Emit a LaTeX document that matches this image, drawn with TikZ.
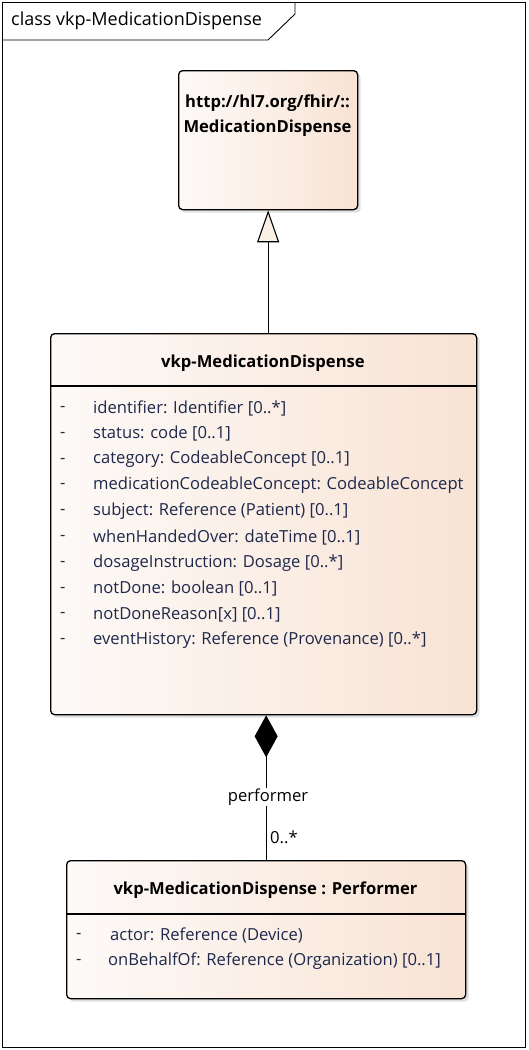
\documentclass[tikz,border=0pt]{standalone}
\usepackage{fontspec}
\setmainfont{Open Sans}
\usepackage{tikz}
\usetikzlibrary{
    arrows.meta,
    shadows,
    positioning
}
\definecolor{boxleft}{RGB}{253,250,248}
\definecolor{boxright}{RGB}{248,227,212}
\definecolor{attrtext}{RGB}{30,40,75}
\definecolor{tipfill}{RGB}{250,240,228}
\tikzstyle{umlclass} = [
    draw=black,
    line width=1.3pt,
    rounded corners=4pt,
    left color=boxleft,
    right color=boxright,
    anchor=north west,
    inner sep=0pt,
    drop shadow={shadow xshift=3pt, shadow yshift=-3pt, fill=black!12, opacity=1}
]
\tikzstyle{classname} = [
    font=\bfseries\fontsize{16.6}{25}\selectfont
]
\tikzstyle{attr} = [
    anchor=west,
    inner sep=0pt,
    text=attrtext,
    font=\fontsize{16.6}{20}\selectfont
]
\tikzstyle{link} = [
    line width=1.1pt,
    draw=black
]

\begin{document}
\begin{tikzpicture}[x=1pt, y=-1pt]
        \useasboundingbox (0,0) rectangle (528,1050);

        % Diagram frame
        \draw[line width=0.9pt] (2,2) rectangle (525,1047);
        \draw[line width=0.9pt] (2,40) -- (268,40) -- (295,14) -- (295,2);
        \node[anchor=west, inner sep=0pt, font=\fontsize{18}{20}\selectfont] (frametitle) at (11,21) {class vkp-MedicationDispense};

        % Parent class
        \node[umlclass, minimum width=179pt, minimum height=139pt] (base) at (178,70) {};
        \node[classname, align=center] (basename) at (267.5,115.5) {http://hl7.org/fhir/::\\MedicationDispense};

        % Profile class
        \node[umlclass, minimum width=426pt, minimum height=381pt] (main) at (50,333) {};
        \draw[line width=1.3pt] (50,386) -- (476,386);
        \node[classname] (mainname) at (263,363) {vkp-MedicationDispense};
        \foreach \txt [count=\i from 0] in {
            {identifier: Identifier [0..*]},
            {status: code [0..1]},
            {category: CodeableConcept [0..1]},
            {medicationCodeableConcept: CodeableConcept},
            {subject: Reference (Patient) [0..1]},
            {whenHandedOver: dateTime [0..1]},
            {dosageInstruction: Dosage [0..*]},
            {notDone: boolean [0..1]},
            {notDoneReason[x] [0..1]},
            {eventHistory: Reference (Provenance) [0..*]}} {
            \node[attr] (dash\i) at (60,409+\i*25.8) {-};
            \node[attr] (attr\i) at (93,408+\i*25.8) {\txt};
        }

        % Backbone element
        \node[umlclass, minimum width=399pt, minimum height=138pt] (perf) at (66,860) {};
        \draw[line width=1.3pt] (66,914) -- (465,914);
        \node[classname] (perfname) at (265.5,890) {vkp-MedicationDispense : Performer};
        \node[attr] (pdash0) at (76,936) {-};
        \node[attr] (pattr0) at (110,935) {actor: Reference (Device)};
        \node[attr] (pdash1) at (76,962) {-};
        \node[attr] (pattr1) at (108,961) {onBehalfOf: Reference (Organization) [0..1]};

        % Generalization
        \draw[link, -{Triangle[open, fill=tipfill, width=22pt, length=32pt]}] (base.south |- main.north) -- (base.south);

        % Composition
        \draw[link, {Diamond[width=23pt, length=42pt]}-] (main.south -| perf.north) -- (perf.north);
        \node[fill=white, inner sep=1pt, font=\fontsize{16.6}{20}\selectfont] (role) at (268,797) {performer};
        \node[anchor=west, inner sep=0pt, font=\fontsize{16.6}{20}\selectfont] (mult) at (270,837) {0..*};
\end{tikzpicture}
\end{document}
